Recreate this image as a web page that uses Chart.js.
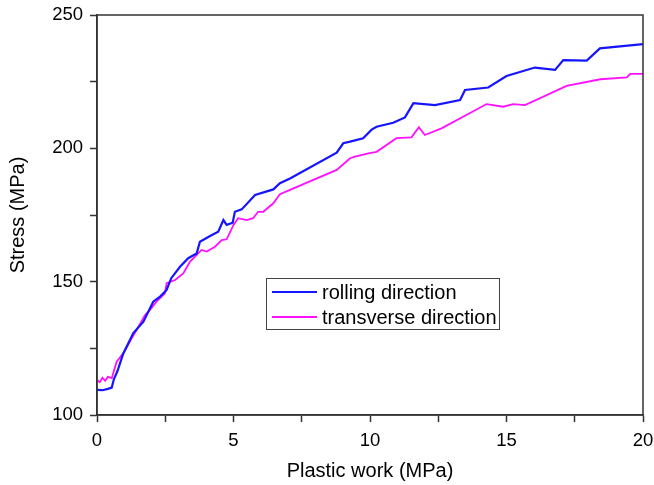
<!DOCTYPE html>
<html>
<head>
<meta charset="utf-8">
<script src="https://cdn.jsdelivr.net/npm/chart.js@4"></script>
<style>
  body { margin: 0; background: #fff; }
  #wrap { width: 654px; height: 485px; }
</style>
</head>
<body>
<div id="wrap"><canvas id="c" width="654" height="485"></canvas></div>
<script>
// Stress vs plastic work
const xRolling = [0, 0.2, 0.4, 0.54, 0.62, 0.75, 0.96, 1.33, 1.70, 2.06, 2.31, 2.55, 2.72, 3.04, 3.34, 3.65, 3.77, 4.14, 4.44, 4.63, 4.75, 4.97, 5.05, 5.30, 5.79, 6.46, 6.70, 7.07, 8.78, 9.02, 9.27, 9.75, 10.06, 10.24, 10.85, 11.28, 11.59, 12.38, 13.30, 13.48, 14.33, 15.0, 16.04, 16.78, 17.08, 17.94, 18.42, 20.0];
const yRolling = [109.4, 109.3, 109.8, 110.3, 113.5, 116.5, 123, 130.7, 135, 142.5, 144.4, 146.9, 151.3, 155.6, 158.8, 160.6, 165, 167.1, 168.7, 173.1, 171.3, 172.1, 176.2, 177.1, 182.5, 184.6, 186.9, 188.7, 198.4, 201.9, 202.5, 203.8, 207, 208.1, 209.6, 211.6, 216.9, 216.2, 218.1, 221.9, 222.8, 227.1, 230.3, 229.4, 233.1, 232.9, 237.5, 239.1];

const xTransverse = [0, 0.1, 0.2, 0.3, 0.4, 0.54, 0.72, 0.96, 1.27, 1.45, 1.76, 1.94, 2.18, 2.49, 2.55, 2.86, 3.16, 3.41, 3.59, 3.83, 4.02, 4.32, 4.57, 4.75, 5.0, 5.17, 5.48, 5.72, 5.90, 6.09, 6.46, 6.70, 7.07, 8.78, 9.27, 9.45, 9.94, 10.24, 10.97, 11.52, 11.79, 12.01, 12.62, 14.27, 14.88, 15.24, 15.68, 17.2, 18.44, 19.41, 19.53, 20];
const yTransverse = [113.1, 112.3, 114, 112.8, 114.3, 113.8, 120, 123.1, 128.8, 131.9, 137.5, 139.4, 142.5, 145.6, 149.4, 150.6, 153.1, 157.5, 159.4, 161.9, 161.3, 163.1, 165.6, 165.9, 171.3, 173.8, 173.1, 173.8, 176.2, 176.2, 179.4, 182.8, 184.4, 191.9, 196.3, 196.9, 198.1, 198.7, 203.8, 204.1, 207.9, 205, 207.5, 216.6, 215.6, 216.6, 216.2, 223.4, 225.9, 226.6, 227.9, 227.9];

const seriesNames = ['rolling direction', 'transverse direction'];
const xTickLabels = ['0', '5', '10', '15', '20'];
const yTickLabels = ['100', '150', '200', '250'];

const toPoints = (xs, ys) => xs.map((x, i) => ({ x: x, y: ys[i] }));
const FONT = 'Arial, "Liberation Sans", sans-serif';
const AXIS = '#333';

// frame + boxed legend in the middle of the plot
const framePlugin = {
    id: 'frame',
    afterDraw(chart) {
        const { ctx, chartArea: a } = chart;
        ctx.save();
        ctx.strokeStyle = AXIS;
        ctx.lineWidth = 1.5;
        ctx.strokeRect(a.left, a.top, a.right - a.left, a.bottom - a.top);

        // legend
        const lx = 266, ly = 278, lw = 233, lh = 51;
        ctx.fillStyle = '#fff';
        ctx.fillRect(lx, ly, lw, lh);
        ctx.lineWidth = 1;
        ctx.strokeStyle = '#444';
        ctx.strokeRect(lx + 0.5, ly + 0.5, lw, lh);
        ctx.font = '20px ' + FONT;
        ctx.textBaseline = 'middle';
        chart.data.datasets.forEach((ds, i) => {
            const yy = ly + 14 + i * 25;
            ctx.strokeStyle = ds.borderColor;
            ctx.lineWidth = 2;
            ctx.beginPath();
            ctx.moveTo(lx + 6, yy);
            ctx.lineTo(lx + 51, yy);
            ctx.stroke();
            ctx.fillStyle = '#000';
            ctx.fillText(ds.label, lx + 56, yy + 1);
        });
        ctx.restore();
    }
};

new Chart(document.getElementById('c'), {
    type: 'scatter',
    data: {
        datasets: [{
            label: seriesNames[0],
            data: toPoints(xRolling, yRolling),
            showLine: true,
            borderColor: '#1515ff',
            borderWidth: 2.2,
            pointRadius: 0,
            tension: 0
        }, {
            label: seriesNames[1],
            data: toPoints(xTransverse, yTransverse),
            showLine: true,
            borderColor: '#ff10ff',
            borderWidth: 1.8,
            pointRadius: 0,
            tension: 0
        }]
    },
    options: {
        responsive: false,
        animation: false,
        layout: { padding: { top: 15, right: 11, left: 0, bottom: 0 } },
        plugins: { legend: { display: false }, tooltip: { enabled: false } },
        scales: {
            x: {
                type: 'linear',
                min: 0, max: 20,
                afterFit: s => { s.height = 70; s.paddingLeft = 0; s.paddingRight = 0; },
                afterBuildTicks: s => { s.ticks = [0, 2.5, 5, 7.5, 10, 12.5, 15, 17.5, 20].map(v => ({ value: v })); },
                border: { display: true, color: AXIS, width: 1.5 },
                grid: { drawOnChartArea: false, drawTicks: true, tickLength: 7, tickColor: AXIS, tickWidth: 1.5 },
                ticks: {
                    color: '#000', font: { family: FONT, size: 18.5 }, padding: 8, maxRotation: 0,
                    callback: v => (v % 5 === 0 ? xTickLabels[v / 5] : '')
                },
                title: { display: true, text: 'Plastic work (MPa)', color: '#000', font: { family: FONT, size: 20 }, padding: { top: 4, bottom: 2 } }
            },
            y: {
                type: 'linear',
                min: 100, max: 250,
                afterFit: s => { s.width = 97; s.paddingTop = 0; s.paddingBottom = 0; },
                afterBuildTicks: s => { s.ticks = [100, 125, 150, 175, 200, 225, 250].map(v => ({ value: v })); },
                border: { display: true, color: AXIS, width: 1.5 },
                grid: { drawOnChartArea: false, drawTicks: true, tickLength: 7, tickColor: AXIS, tickWidth: 1.5 },
                ticks: {
                    color: '#000', font: { family: FONT, size: 18.5 }, padding: 7,
                    callback: v => (v % 50 === 0 ? yTickLabels[(v - 100) / 50] : '')
                },
                title: { display: true, text: 'Stress (MPa)', color: '#000', font: { family: FONT, size: 20 }, padding: { top: 6, bottom: 0 } }
            }
        }
    },
    plugins: [framePlugin]
});
</script>
</body>
</html>
